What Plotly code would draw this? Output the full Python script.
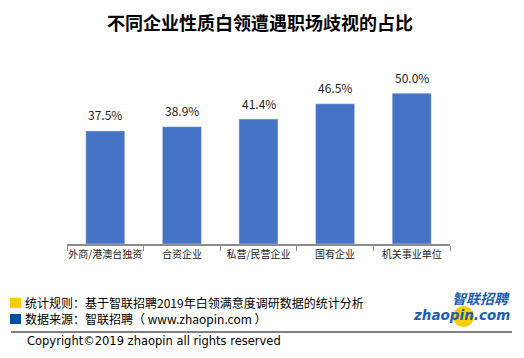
import plotly.graph_objects as go

categories = ["外商/港澳台独资", "合资企业", "私营/民营企业", "国有企业", "机关事业单位"]
values = [37.5, 38.9, 41.4, 46.5, 50.0]
value_labels = ["37.5%", "38.9%", "41.4%", "46.5%", "50.0%"]

FONT = "Noto Sans CJK SC"
O = 8  # page body margin offset
W, H = 524 - O, 358 - O
# plot area in reference pixels: x 67..450, y 63..244
ML, MR, MT, MB = 67 - O, 524 - 450, 63 - O, 358 - 244
PW, PH = W - ML - MR, H - MT - MB

fig = go.Figure()
fig.add_trace(go.Bar(
    x=categories, y=values,
    marker_color="#4472C4",
    hoverinfo="x+y",
))

for c, v, t in zip(categories, values, value_labels):
    fig.add_annotation(x=c, y=v, text=t, showarrow=False, yshift=16,
                       xref="x", yref="y", yanchor="middle",
                       font=dict(family=FONT, size=12, color="#222222"))

fig.update_layout(
    width=W, height=H,
    margin=dict(l=ML, r=MR, t=MT, b=MB, autoexpand=False),
    paper_bgcolor="white", plot_bgcolor="white",
    bargap=0.49,
    showlegend=False,
    font=dict(family=FONT),
    xaxis=dict(
        showline=True, linecolor="#8c8c8c", linewidth=1.5,
        ticks="outside", tickson="boundaries", ticklen=5, tickcolor="#8c8c8c",
        tickfont=dict(family=FONT, size=10, color="#222222"),
        tickangle=0, automargin=False,
        showgrid=False, fixedrange=True,
    ),
    yaxis=dict(range=[0, 60], visible=False, showgrid=False, fixedrange=True, automargin=False),
)

def px(x): return (x - O - ML) / PW
def py(y): return (H - MB - (y - O)) / PH

# Title
fig.add_annotation(text="<b>不同企业性质白领遭遇职场歧视的占比</b>", x=px(260), y=py(22),
                   xref="paper", yref="paper", xanchor="center", yanchor="middle",
                   showarrow=False, font=dict(family=FONT, size=18, color="#000000"))

# Footer shapes
shapes = [
    dict(type="rect", xref="paper", yref="paper", x0=px(10), x1=px(21), y0=py(308), y1=py(298),
         fillcolor="#FFCC00", line=dict(width=0)),
    dict(type="rect", xref="paper", yref="paper", x0=px(10), x1=px(21), y0=py(324), y1=py(314),
         fillcolor="#0050A0", line=dict(width=0)),
    dict(type="line", xref="paper", yref="paper", x0=px(11), x1=px(512), y0=py(332), y1=py(332),
         line=dict(color="#000000", width=1)),
    dict(type="circle", xref="paper", yref="paper", x0=px(453), x1=px(474), y0=py(327), y1=py(306),
         fillcolor="#FFCC00", line=dict(width=0), layer="below"),
]
fig.update_layout(shapes=shapes)

fig.add_annotation(text="统计规则：基于智联招聘2019年白领满意度调研数据的统计分析", x=px(23), y=py(302),
                   xref="paper", yref="paper", xanchor="left", yanchor="middle", showarrow=False,
                   font=dict(family=FONT, size=12, color="#000000"))
fig.add_annotation(text="数据来源：智联招聘（ www.zhaopin.com ）", x=px(23), y=py(318),
                   xref="paper", yref="paper", xanchor="left", yanchor="middle", showarrow=False,
                   font=dict(family=FONT, size=12, color="#000000"))
fig.add_annotation(text="Copyright©2019 zhaopin all rights reserved", x=px(25), y=py(341),
                   xref="paper", yref="paper", xanchor="left", yanchor="middle", showarrow=False,
                   font=dict(family="DejaVu Sans", size=11.5, color="#000000"))

# Logo
fig.add_annotation(text="<b><i>智联招聘</i></b>", x=px(481), y=py(298),
                   xref="paper", yref="paper", xanchor="center", yanchor="middle", showarrow=False,
                   font=dict(family=FONT, size=14, color="#1a5fb4"))
fig.add_annotation(text="<b><i>zhaopin.com</i></b>", x=px(461), y=py(315),
                   xref="paper", yref="paper", xanchor="center", yanchor="middle", showarrow=False,
                   font=dict(family="DejaVu Sans", size=13.5, color="#1a5fb4"))

fig.write_html("out.html")
